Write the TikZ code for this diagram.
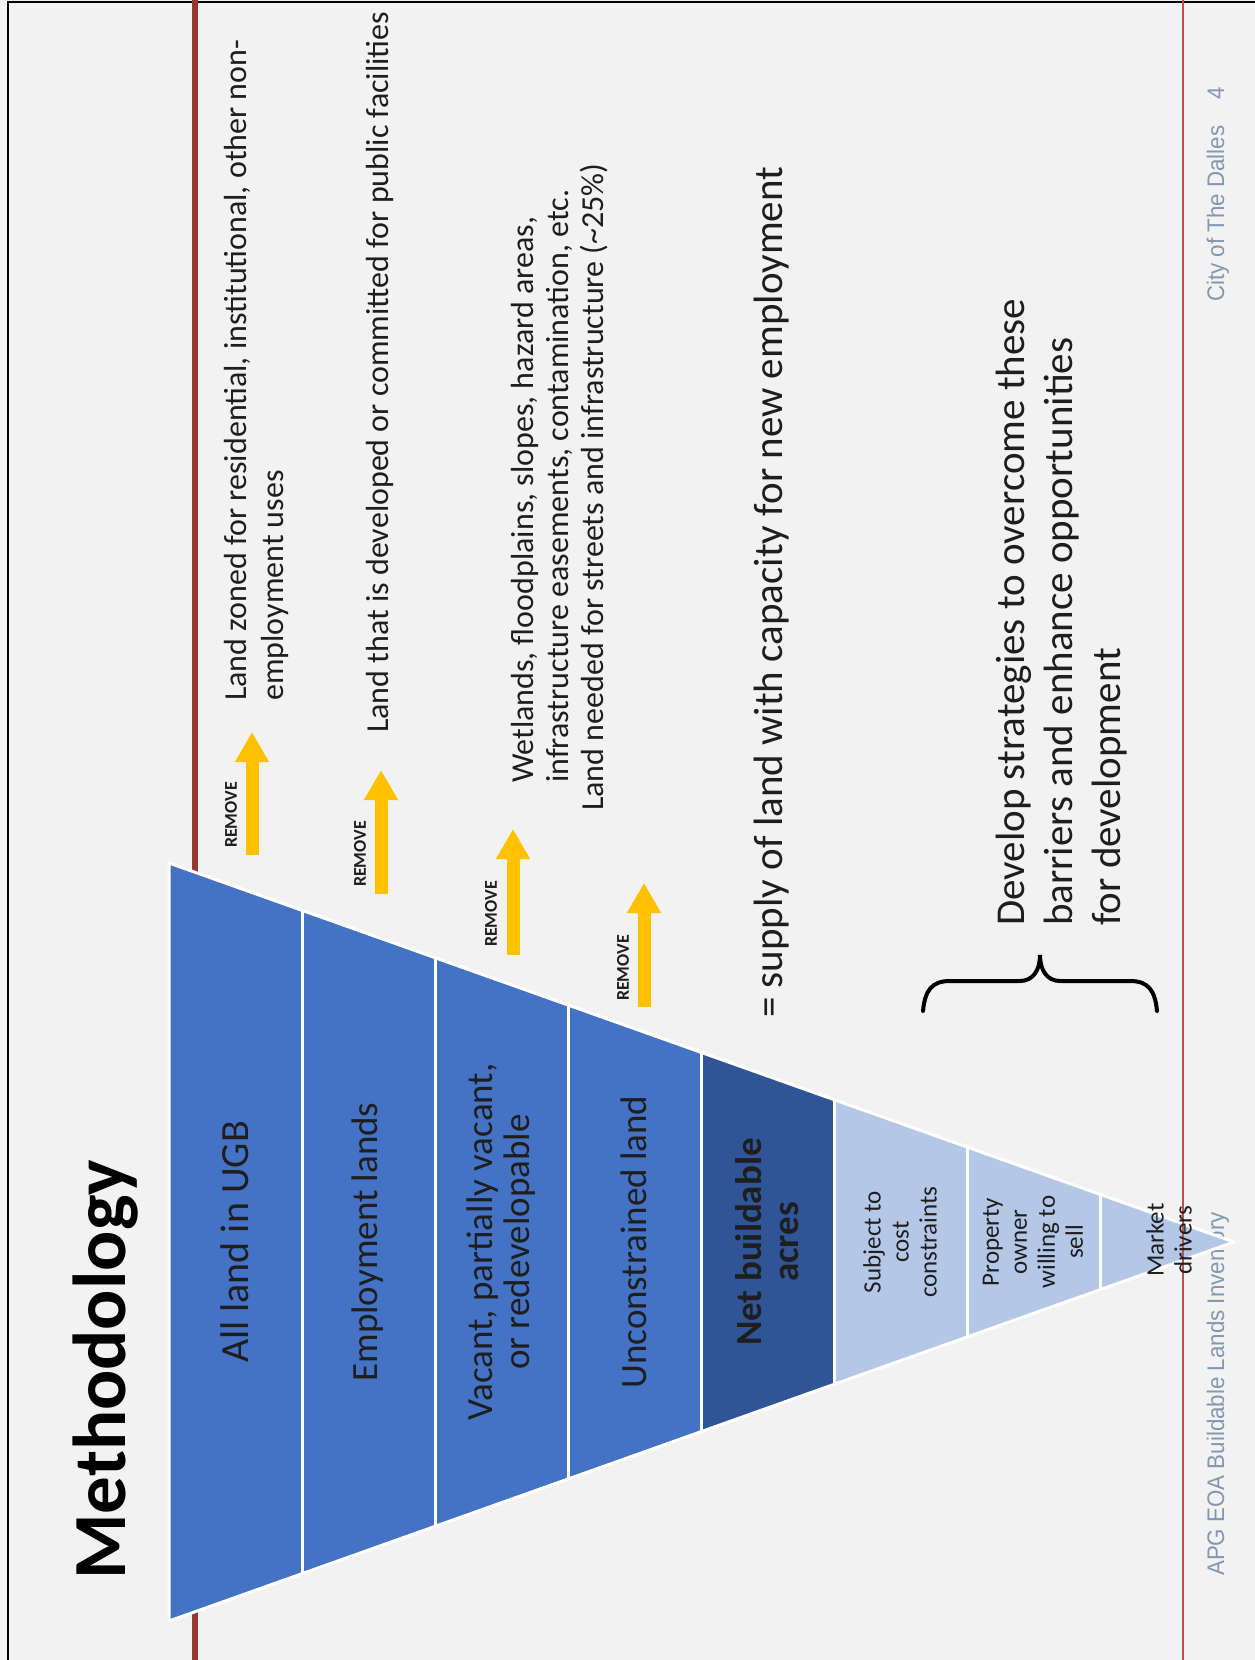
\documentclass[tikz,border=0pt]{standalone}
\usepackage{fontspec}
\setmainfont{Carlito}
\newfontfamily\footfont[FakeStretch=0.93]{Liberation Sans}
\usetikzlibrary{arrows.meta}

\definecolor{slidebg}{HTML}{F2F2F2}
\definecolor{ugbblue}{HTML}{4472C4}
\definecolor{netblue}{HTML}{2F5597}
\definecolor{paleblue}{HTML}{B4C7E7}
\definecolor{removegold}{HTML}{FFC000}
\definecolor{ruledark}{HTML}{953735}
\definecolor{rulelight}{HTML}{C0504D}
\definecolor{footgray}{HTML}{8497B0}
\definecolor{inktext}{HTML}{1E1E1E}

\tikzset{
  vtext/.style={rotate=90, inner sep=0pt, text=inktext},
  bigstrip/.style={vtext, align=center, font=\fontsize{37}{37}\selectfont},
  smallstrip/.style={vtext, align=center, font=\fontsize{25}{28}\selectfont},
  note/.style={vtext, align=left, font=\fontsize{32}{37}\selectfont},
  seam/.style={white, line width=3pt, line join=round},
  removearrow/.style={removegold, line width=13pt, -{Triangle[width=32pt, length=30pt]}},
  removetag/.style={vtext, font=\bfseries\fontsize{18}{18}\selectfont},
  foot/.style={vtext, text=footgray, font=\footfont\fontsize{24}{24}\selectfont}
}

\begin{document}
\begin{tikzpicture}[x=1pt, y=-1pt]
\useasboundingbox (0,0) rectangle (1255,1660);
\fill[slidebg] (0,0) rectangle (1255,1660);
\draw[black, line width=2pt] (8,1660) -- (8,2) -- (1255,2);

% rules and footer
\draw[ruledark, line width=6pt] (195,0) -- (195,1660);
\node[foot, anchor=base west] (foot1) at (1224,1576) {APG EOA Buildable Lands Inventory};
\node[foot, anchor=base west] (foot2) at (1224,302) {City of The Dalles};
\node[foot, anchor=base west] (pagenum) at (1224,100) {4};

% title
\node[vtext, anchor=base west, text=black, font=\bfseries\fontsize{75}{75}\selectfont] (title) at (125,1580) {Methodology};

% funnel
\fill[ugbblue] (169,863) -- (302.1,910.4) -- (302.1,1573.6) -- (169,1621) -- cycle;
\fill[ugbblue] (302.1,910.4) -- (435.3,957.8) -- (435.3,1526.3) -- (302.1,1573.6) -- cycle;
\fill[ugbblue] (435.3,957.8) -- (568.4,1005.1) -- (568.4,1478.9) -- (435.3,1526.3) -- cycle;
\fill[ugbblue] (568.4,1005.1) -- (701.5,1052.5) -- (701.5,1431.5) -- (568.4,1478.9) -- cycle;
\fill[netblue] (701.5,1052.5) -- (834.6,1099.9) -- (834.6,1384.1) -- (701.5,1431.5) -- cycle;
\fill[paleblue] (834.6,1099.9) -- (967.8,1147.3) -- (967.8,1336.8) -- (834.6,1384.1) -- cycle;
\fill[paleblue] (967.8,1147.3) -- (1100.9,1194.6) -- (1100.9,1289.4) -- (967.8,1336.8) -- cycle;
\fill[paleblue] (1100.9,1194.6) -- (1234,1242) -- (1100.9,1289.4) -- cycle;
\draw[seam] (169,863) -- (1234,1242) -- (169,1621) -- cycle;
\draw[seam] (302.1,910.4) -- (302.1,1573.6);
\draw[seam] (435.3,957.8) -- (435.3,1526.3);
\draw[seam] (568.4,1005.1) -- (568.4,1478.9);
\draw[seam] (701.5,1052.5) -- (701.5,1431.5);
\draw[seam] (834.6,1099.9) -- (834.6,1384.1);
\draw[seam] (967.8,1147.3) -- (967.8,1336.8);
\draw[seam] (1100.9,1194.6) -- (1100.9,1289.4);

\draw[rulelight, line width=2.5pt] (1183,0) -- (1183,1660);

% strip labels
\node[bigstrip, font=\fontsize{40}{40}\selectfont] (s1) at (235,1242) {All land in UGB};
\node[bigstrip] (s2) at (368,1242) {Employment lands};
\node[bigstrip] (s3) at (501,1242) {Vacant, partially vacant,\\or redevelopable};
\node[bigstrip] (s4) at (634,1242) {Unconstrained land};
\node[bigstrip, font=\bfseries\fontsize{37}{37}\selectfont] (s5) at (767,1242) {Net buildable\\acres};
\node[smallstrip] (s6) at (900,1242) {Subject to\\cost\\constraints};
\node[smallstrip] (s7) at (1033,1242) {Property\\owner\\willing to\\sell};
\node[smallstrip] (s8) at (1169,1240) {Market\\drivers};

% remove arrows
\coordinate (r1) at (252,855);
\coordinate (r1tip) at (252,732);
\coordinate (r2) at (381,894);
\coordinate (r2tip) at (381,770);
\coordinate (r3) at (513,955);
\coordinate (r3tip) at (513,829);
\coordinate (r4) at (644,1007);
\coordinate (r4tip) at (644,883);
\draw[removearrow] (r1) -- (r1tip);
\draw[removearrow] (r2) -- (r2tip);
\draw[removearrow] (r3) -- (r3tip);
\draw[removearrow] (r4) -- (r4tip);
\node[removetag] (rm1) at (231,815) {REMOVE};
\node[removetag] (rm2) at (360,854) {REMOVE};
\node[removetag] (rm3) at (491,914) {REMOVE};
\node[removetag] (rm4) at (623,968) {REMOVE};

% what gets removed
\node[note, anchor=north west] (zoned) at (224,701) {Land zoned for residential, institutional, other non-\\employment uses};
\node[vtext, anchor=base west, font=\fontsize{32}{37}\selectfont] (developed) at (388,733) {Land that is developed or committed for public facilities};
\node[note, anchor=north west, font=\fontsize{32}{35}\selectfont] (constraints) at (511,783) {Wetlands, floodplains, slopes, hazard areas,\\infrastructure easements, contamination, etc.\\\hspace*{-28pt}Land needed for streets and infrastructure (\textasciitilde25\%)};
\node[vtext, anchor=base west, font=\fontsize{41}{41}\selectfont] (supply) at (782,1018) {= supply of land with capacity for new employment};

% brace and strategies
\draw[black, line width=4pt, line cap=round] (923,1011) .. controls (925,990) and (932,981) .. (950,981) -- (1020,981) .. controls (1033,981) and (1040,970) .. (1040,955) .. controls (1040,970) and (1047,981) .. (1060,981) -- (1130,981) .. controls (1148,981) and (1155,990) .. (1157,1011);
\node[vtext, anchor=north west, align=left, font=\fontsize{41}{48}\selectfont] (strategies) at (996,926) {Develop strategies to overcome these\\barriers and enhance opportunities\\for development};
\end{tikzpicture}
\end{document}
